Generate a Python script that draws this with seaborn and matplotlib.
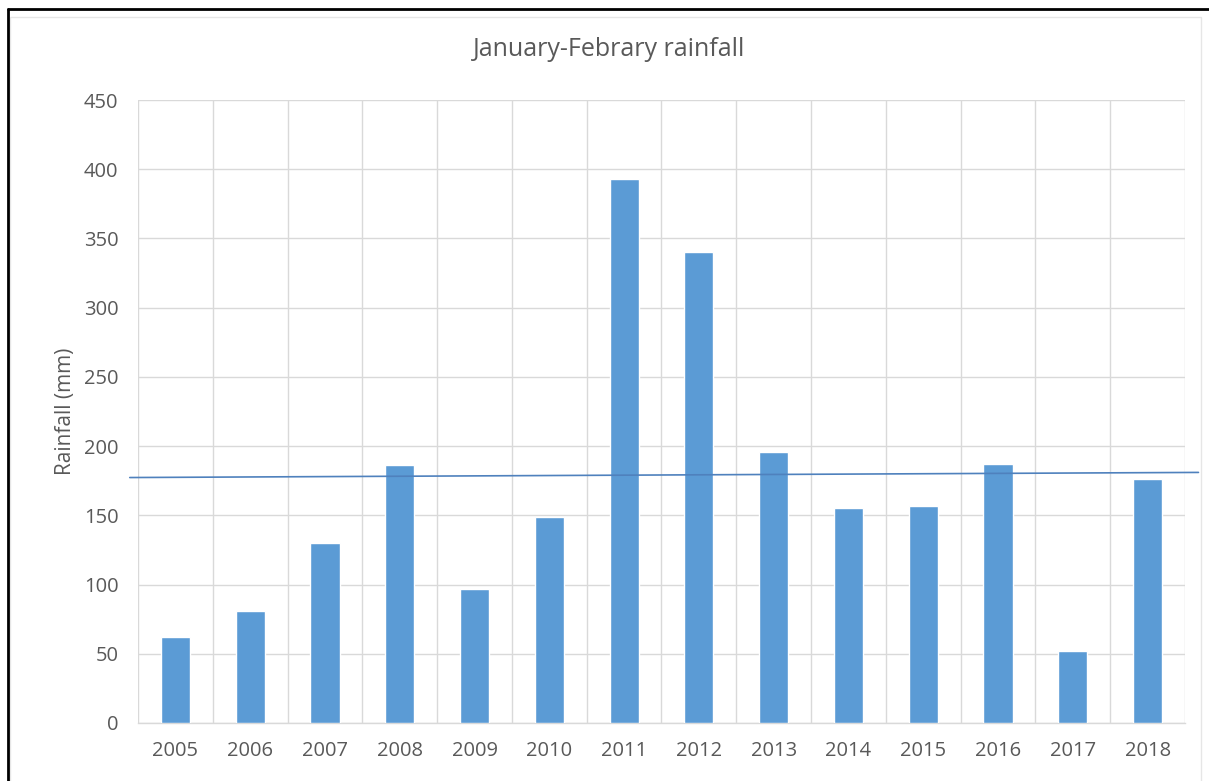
import matplotlib
matplotlib.use("Agg")
import matplotlib.pyplot as plt
import seaborn as sns
import pandas as pd
from matplotlib.lines import Line2D
from matplotlib.patches import Rectangle

# ---- data ----
years = ["2005", "2006", "2007", "2008", "2009", "2010", "2011",
         "2012", "2013", "2014", "2015", "2016", "2017", "2018"]
rainfall = [62, 81, 130, 186, 97, 149, 393, 340, 196, 155, 157, 187, 52, 176]
# hand-drawn reference line (category-index position, rainfall value)
line_x = [-0.61, 13.68]
line_y = [177.3, 181.0]
y_ticks = [0, 50, 100, 150, 200, 250, 300, 350, 400, 450]

df = pd.DataFrame({"year": years, "rainfall": rainfall})

sns.set_theme(style="white")
plt.rcParams["font.family"] = ["Open Sans", "DejaVu Sans"]

W, H = 1209, 781
fig = plt.figure(figsize=(W / 100, H / 100), dpi=100)
ax = fig.add_axes([138 / W, 1 - 723 / H, (1185 - 138) / W, (723 - 100) / H])

BAR = "#5B9BD5"
GRID = "#D9D9D9"
TXT = "#595959"

sns.barplot(data=df, x="year", y="rainfall", color=BAR, width=0.39,
            saturation=1, ax=ax, zorder=3)

ax.set_xlim(-0.5, len(years) - 0.5)
ax.set_ylim(0, 450)
ax.set_yticks(y_ticks)

# vertical gridlines at category boundaries
ax.set_xticks([i + 0.5 for i in range(-1, len(years))], minor=True)
ax.grid(axis="y", which="major", color=GRID, linewidth=1.0, zorder=0)
ax.grid(axis="x", which="minor", color=GRID, linewidth=1.0, zorder=0)
ax.grid(axis="x", which="major", visible=False)
ax.set_axisbelow(True)

for s in ["top", "right", "left"]:
    ax.spines[s].set_visible(False)
ax.spines["bottom"].set_color(GRID)
ax.spines["bottom"].set_linewidth(1.0)

ax.tick_params(axis="both", which="both", length=0, colors=TXT, labelsize=14.5)
ax.tick_params(axis="y", pad=14)
ax.tick_params(axis="x", pad=13)

ax.set_xlabel("")
ax.set_ylabel("Rainfall (mm)", color=TXT, fontsize=15, labelpad=6)

ax.plot(line_x, line_y, color="#4F81BD", linewidth=1.2, clip_on=False, zorder=4)

fig.text(609 / W, 1 - 50 / H, "January-Febrary rainfall", ha="center", va="center",
         color=TXT, fontsize=18)

# screenshot frame
fig.add_artist(Rectangle((10 / W, -0.01), (1201 - 10) / W, 1 - 17 / H + 0.01,
                         transform=fig.transFigure, fill=False,
                         edgecolor="#E6E6E6", linewidth=1.0))
fig.add_artist(Line2D([8 / W, 1], [1 - 9 / H, 1 - 9 / H], transform=fig.transFigure,
                      color="black", linewidth=2))
fig.add_artist(Line2D([8 / W, 8 / W], [0, 1 - 9 / H], transform=fig.transFigure,
                      color="black", linewidth=2))

fig.savefig("out.png", dpi=100)
